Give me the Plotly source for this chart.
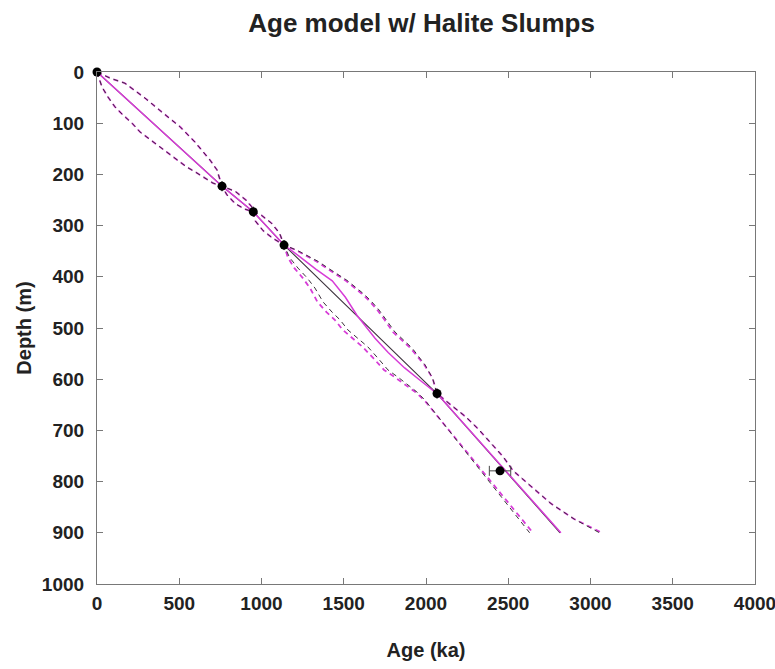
import plotly.graph_objects as go

# ---- data ----
# tie points (age in ka, depth in m)
tie_age = [0, 760, 950, 1137, 2067, 2450]
tie_depth = [0, 223, 273, 338, 628, 779]
tie_err = [0, 0, 0, 0, 0, 65]

# model without slump correction (black)
blk_mid_age = [0, 760, 950, 1137, 2067, 2815]
blk_mid_depth = [0, 223, 273, 338, 628, 900]

blk_hi_age = [0, 80, 170, 292, 401, 505, 596, 687, 729, 760,
              840, 905, 940, 950, 1000, 1060, 1110, 1137,
              1215, 1285, 1345, 1405, 1465, 1520, 1570, 1620, 1665, 1710,
              1760, 1812, 1915, 1994, 2040, 2067,
              2150, 2240, 2320, 2400, 2470, 2530, 2640, 2760, 2900, 3055]
blk_hi_depth = [0, 12, 22, 51, 80, 107, 137, 172, 191, 223,
                233, 250, 263, 273, 280, 295, 315, 338,
                348, 360, 370, 383, 395, 407, 420, 433, 447, 463,
                485, 508, 539, 572, 598, 628,
                650, 673, 698, 727, 752, 779, 810, 843, 873, 900]

blk_lo_age = [0, 30, 67, 109, 158, 213, 261, 310, 365, 426, 486, 547, 596, 657, 705, 760,
              790, 840, 900, 950, 960, 1010, 1070, 1137,
              1170, 1222, 1277, 1325, 1374, 1429, 1477, 1526, 1587, 1647,
              1708, 1769, 1830, 1891, 1945, 1994, 2630]
blk_lo_depth = [0, 29, 49, 68, 84, 100, 117, 129, 143, 158, 172, 186, 195, 207, 217, 223,
                240, 257, 268, 273, 290, 310, 325, 338,
                362, 383, 402, 422, 449, 469, 484, 504, 520, 537,
                559, 582, 596, 611, 625, 641, 900]

# model with halite slumps (magenta)
mag_mid_age = [0, 760, 950, 1137, 1230, 1330, 1430, 1510, 1580, 1640, 1690,
               1770, 1870, 1975, 2067, 2820]
mag_mid_depth = [0, 223, 273, 338, 360, 385, 408, 440, 475, 500, 520,
                 548, 578, 605, 628, 900]

mag_hi_age = [0, 80, 170, 292, 401, 505, 596, 687, 729, 760,
              840, 905, 940, 950, 1000, 1060, 1110, 1137,
              1210, 1275, 1335, 1395, 1455, 1510, 1560, 1610, 1655, 1700,
              1750, 1800, 1905, 1990, 2040, 2067,
              2150, 2240, 2320, 2400, 2470, 2530, 2640, 2760, 2900, 3070]
mag_hi_depth = blk_hi_depth

mag_lo_age = [0, 30, 67, 109, 158, 213, 261, 310, 365, 426, 486, 547, 596, 657, 705, 760,
              790, 840, 900, 950, 960, 1010, 1070, 1137,
              1160, 1200, 1250, 1295, 1340, 1395, 1445, 1495, 1555, 1615,
              1680, 1745, 1810, 1875, 1935, 1990, 2650]
mag_lo_depth = blk_lo_depth

# ---- figure ----
MAG = "rgb(215,60,215)"
BLK = "rgb(60,50,60)"
FONT = "Liberation Sans, Arial, sans-serif"

fig = go.Figure()

def add_line(x, y, color, width, dash):
    fig.add_trace(go.Scatter(x=x, y=y, mode="lines",
                             line=dict(color=color, width=width, dash=dash),
                             hoverinfo="skip", showlegend=False))

add_line(mag_hi_age, mag_hi_depth, MAG, 1.8, "5px,4px")
add_line(mag_lo_age, mag_lo_depth, MAG, 1.8, "5px,4px")
add_line(blk_hi_age, blk_hi_depth, BLK, 1.0, "5px,4px")
add_line(blk_lo_age, blk_lo_depth, BLK, 1.0, "5px,4px")
add_line(blk_mid_age, blk_mid_depth, BLK, 1.1, "solid")
add_line(mag_mid_age, mag_mid_depth, MAG, 1.5, "solid")

fig.add_trace(go.Scatter(
    x=tie_age, y=tie_depth, mode="markers",
    marker=dict(color="black", size=9),
    error_x=dict(type="data", array=tie_err, visible=True,
                 color="rgb(70,70,70)", thickness=1, width=5),
    cliponaxis=False, hoverinfo="skip", showlegend=False))

axis_common = dict(showline=True, linecolor="rgb(120,120,120)", linewidth=1.2,
                   mirror="ticks", ticks="inside", ticklen=6,
                   tickcolor="rgb(120,120,120)", showgrid=False, zeroline=False,
                   ticklabeloverflow="allow", automargin=False,
                   tickfont=dict(family=FONT, size=19, color="#222"))

fig.update_xaxes(range=[0, 4000], dtick=500, tick0=0, ticklabelstandoff=2,
                 title=dict(text="<b>Age (ka)</b>", font=dict(family=FONT, size=20, color="#222"),
                            standoff=30),
                 **axis_common)
fig.update_yaxes(range=[1000, 0], dtick=100, tick0=0, ticklabelstandoff=8,
                 title=dict(text="<b>Depth (m)</b>", font=dict(family=FONT, size=20, color="#222"),
                            standoff=4),
                 **axis_common)

fig.update_layout(
    width=775, height=669,
    margin=dict(l=97, r=20, t=72, b=85),
    paper_bgcolor="white", plot_bgcolor="white",
    title=dict(text="<b>Age model w/ Halite Slumps</b>", x=0.544, xanchor="center",
               y=0.966, yanchor="middle",
               font=dict(family=FONT, size=26, color="#222")),
    font=dict(family=FONT, weight="bold"),
)

fig.write_html("out.html")
